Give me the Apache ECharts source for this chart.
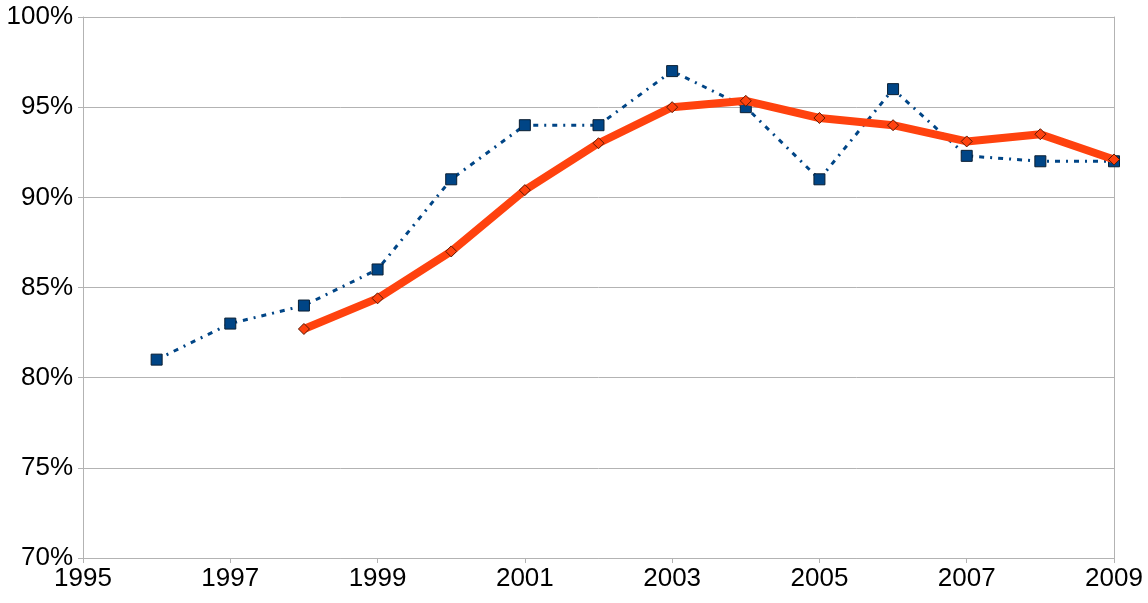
<!DOCTYPE html>
<html><head><meta charset="utf-8">
<script src="https://cdn.jsdelivr.net/npm/echarts@6/dist/echarts.min.js"></script>
<style>html,body{margin:0;padding:0;background:#fff}#c{width:1148px;height:603px}</style>
</head><body><div id="c"></div>
<script>
var blueYears = [1996,1997,1998,1999,2000,2001,2002,2003,2004,2005,2006,2007,2008,2009];
var blueValues = [81,83,84,86,91,94,94,97,95,91,96,92.3,92,92];
var orangeYears = [1998,1999,2000,2001,2002,2003,2004,2005,2006,2007,2008,2009];
var orangeValues = [82.7,84.4,87,90.4,93,95,95.35,94.4,94,93.1,93.5,92.1];
var xTicks = [1995,1997,1999,2001,2003,2005,2007,2009];
var yTicks = [70,75,80,85,90,95,100];

function pairs(xs, ys){ return xs.map(function(x,i){return [x, ys[i]];}); }

var chart = echarts.init(document.getElementById('c'), null, {renderer:'canvas'});
var font = {fontFamily:'Liberation Sans, Arial, sans-serif', fontSize:26, color:'#000'};
chart.setOption({
  animation:false,
  grid:{left:83, right:34, top:17, bottom:45, containLabel:false},
  xAxis:{type:'value', min:xTicks[0], max:xTicks[xTicks.length-1], interval:2,
    axisLine:{show:true, lineStyle:{color:'#b3b3b3', width:1}},
    axisTick:{show:true, length:5, lineStyle:{color:'#b3b3b3'}},
    splitLine:{show:false},
    axisLabel:Object.assign({margin:8, formatter:function(v){return String(v);}}, font)},
  yAxis:[{type:'value', min:yTicks[0], max:yTicks[yTicks.length-1], interval:5,
    axisLine:{show:true, lineStyle:{color:'#b3b3b3', width:1}},
    axisTick:{show:true, length:5, lineStyle:{color:'#b3b3b3'}},
    splitLine:{show:true, lineStyle:{color:'#b3b3b3', width:1}},
    axisLabel:Object.assign({margin:10, formatter:function(v){return v+'%';}}, font)},
    {type:'value', position:'right', min:yTicks[0], max:yTicks[yTicks.length-1], interval:5,
    axisLine:{show:true, lineStyle:{color:'#b3b3b3', width:1}},
    axisTick:{show:false}, axisLabel:{show:false}, splitLine:{show:false}}],
  series:[
    {type:'line', data:pairs(blueYears, blueValues), symbol:'rect', symbolSize:11,
     lineStyle:{color:'#004586', width:3, type:[5,6,2,6]},
     itemStyle:{color:'#004586', borderColor:'#0a1f33', borderWidth:1}, z:2},
    {type:'line', data:pairs(orangeYears, orangeValues), symbol:'diamond', symbolSize:11,
     lineStyle:{color:'#ff420e', width:8},
     itemStyle:{color:'#ff420e', borderColor:'#5a1a05', borderWidth:1}, z:3}
  ]
});
</script></body></html>
